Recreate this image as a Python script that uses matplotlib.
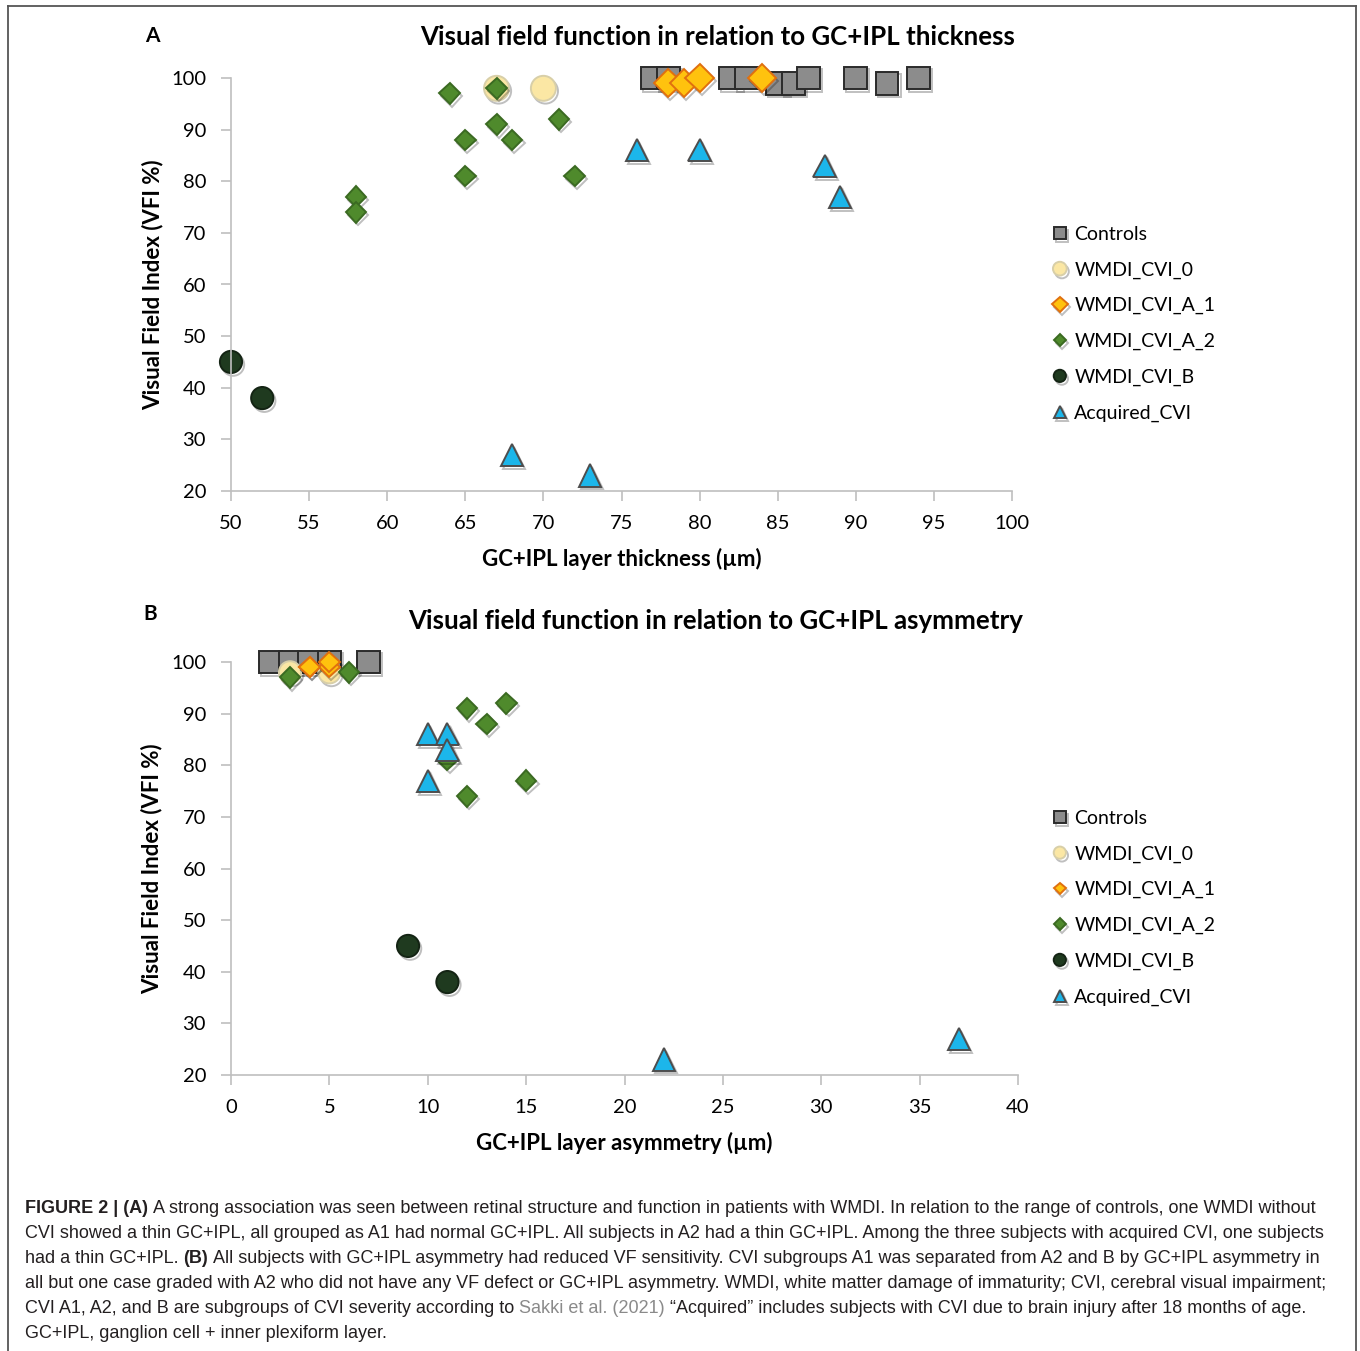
import numpy as np
import matplotlib
matplotlib.use('Agg')
import matplotlib.pyplot as plt
import matplotlib.patheffects as pe
from matplotlib.lines import Line2D

## The Data ..
# panel A: GC+IPL thickness (um) vs VFI (%)
ctrl_thk = [77, 78, 82, 83, 85, 86, 87, 90, 92, 94]
ctrl_thk_vfi = [100, 100, 100, 100, 99, 99, 100, 100, 99, 100]
cvi0_thk = [67, 70]
cvi0_thk_vfi = [98, 98]
a1_thk = [78, 79, 80, 84]
a1_thk_vfi = [99, 99, 100, 100]
a2_thk = [64, 67, 65, 67, 68, 71, 65, 72, 58, 58]
a2_thk_vfi = [97, 98, 88, 91, 88, 92, 81, 81, 77, 74]
b_thk = [50, 52]
b_thk_vfi = [45, 38]
acq_thk = [76, 80, 88, 89, 68, 73]
acq_thk_vfi = [86, 86, 83, 77, 27, 23]

# panel B: GC+IPL asymmetry (um) vs VFI (%)
ctrl_asy = [2, 3, 4, 5, 7]
ctrl_asy_vfi = [100, 100, 100, 100, 100]
cvi0_asy = [3, 5]
cvi0_asy_vfi = [98, 98]
a1_asy = [4, 5, 5, 4]
a1_asy_vfi = [99, 99, 100, 99]
a2_asy = [3, 6, 12, 14, 13, 11, 12, 15]
a2_asy_vfi = [97, 98, 91, 92, 88, 81, 74, 77]
b_asy = [9, 11]
b_asy_vfi = [45, 38]
acq_asy = [10, 11, 11, 10, 22, 37]
acq_asy_vfi = [86, 86, 83, 77, 23, 27]

series_names = ['Controls', 'WMDI_CVI_0', 'WMDI_CVI_A_1', 'WMDI_CVI_A_2', 'WMDI_CVI_B', 'Acquired_CVI']

W, H = 1360, 1351
fig = plt.figure(figsize=(W / 100, H / 100), dpi=100)
CF = ['Lato', 'DejaVu Sans']

# marker styles: marker, size, face, edge
sty_top = [('s', 16.5, '#8c8c8c', '#2b2b2b'),
           ('o', 18, '#fbe7a4', '#d8cfa8'),
           ('D', 14.5, '#ffc20e', '#e0700f'),
           ('D', 10.5, '#4f8a2c', '#3b6a22'),
           ('o', 16, '#1f3a1f', '#142414'),
           ('^', 16, '#1cb6ea', '#4d4d4d')]
sty_bot = [('s', 16.5, '#8c8c8c', '#2b2b2b'),
           ('o', 16, '#fbe7a4', '#d8cfa8'),
           ('D', 10.5, '#ffc20e', '#e0700f'),
           ('D', 10.5, '#4f8a2c', '#3b6a22'),
           ('o', 16, '#1f3a1f', '#142414'),
           ('^', 16, '#1cb6ea', '#4d4d4d')]


def px2fig(x0, y0, x1, y1):
    return [x0 / W, 1 - y1 / H, (x1 - x0) / W, (y1 - y0) / H]


def draw_panel(rect, data, styles, xlim, xticks, xlabel, title, title_xy, letter, letter_xy, leg_xy):
    ax = fig.add_axes(px2fig(*rect))
    for (xs, ys), name, (m, ms, fc, ec) in zip(data, series_names, styles):
        ax.plot(xs, ys, linestyle='none', marker=m, markersize=ms,
                markerfacecolor=fc, markeredgecolor=ec, markeredgewidth=1.4,
                clip_on=False, label=name,
                path_effects=[pe.SimpleLineShadow(offset=(1.5, -2), alpha=0.25, shadow_color='k'), pe.Normal()])
    ax.set_xlim(*xlim)
    ax.set_ylim(20, 100)
    ax.set_xticks(xticks)
    ax.set_yticks(np.arange(20, 101, 10))
    for s in ['top', 'right']:
        ax.spines[s].set_visible(False)
    for s in ['left', 'bottom']:
        ax.spines[s].set_color('#bfbfbf')
        ax.spines[s].set_linewidth(1.2)
    ax.tick_params(axis='both', direction='out', length=7, width=1.2, color='#bfbfbf',
                   labelsize=14.5, labelcolor='black')
    ax.tick_params(axis='y', pad=11)
    ax.tick_params(axis='x', pad=10)
    for lab in ax.get_xticklabels() + ax.get_yticklabels():
        lab.set_family(CF)
    ax.set_xlabel(xlabel, fontsize=16, fontweight='bold', family=CF)
    ax.set_ylabel('Visual Field Index (VFI %)', fontsize=16, fontweight='bold', family=CF)
    ax.xaxis.set_label_coords(0.5, -0.138)
    ax.yaxis.set_label_coords(-0.087, 0.5)
    fig.text(title_xy[0] / W, 1 - title_xy[1] / H, title, fontsize=18.6, fontweight='bold',
             family=CF, ha='center', va='center')
    fig.text(letter_xy[0] / W, 1 - letter_xy[1] / H, letter, fontsize=15, fontweight='bold',
             family=CF, ha='center', va='center')
    ax.legend(loc='upper left', bbox_to_anchor=(leg_xy[0] / W, 1 - leg_xy[1] / H),
              bbox_transform=fig.transFigure, frameon=False, markerscale=0.55,
              handlelength=0.6, handletextpad=0.45, labelspacing=0.95, borderpad=0,
              borderaxespad=0, prop={'family': CF, 'size': 14})
    return ax


top_data = [(ctrl_thk, ctrl_thk_vfi), (cvi0_thk, cvi0_thk_vfi), (a1_thk, a1_thk_vfi),
            (a2_thk, a2_thk_vfi), (b_thk, b_thk_vfi), (acq_thk, acq_thk_vfi)]
bot_data = [(ctrl_asy, ctrl_asy_vfi), (cvi0_asy, cvi0_asy_vfi), (a1_asy, a1_asy_vfi),
            (a2_asy, a2_asy_vfi), (b_asy, b_asy_vfi), (acq_asy, acq_asy_vfi)]

draw_panel((231, 78, 1012, 491), top_data, sty_top, (50, 100), np.arange(50, 101, 5),
           'GC+IPL layer thickness (\u00b5m)', 'Visual field function in relation to GC+IPL thickness',
           (718, 37), 'A', (152, 36), (1054, 226))
draw_panel((231, 662, 1018, 1075), bot_data, sty_bot, (0, 40), np.arange(0, 41, 5),
           'GC+IPL layer asymmetry (\u00b5m)', 'Visual field function in relation to GC+IPL asymmetry',
           (716, 621), 'B', (150, 614), (1054, 810))

## frame round the figure
fc = '#555555'
fig.add_artist(Line2D([8 / W, 8 / W], [0, 1 - 6 / H], transform=fig.transFigure, color=fc, lw=1.3))
fig.add_artist(Line2D([1356 / W, 1356 / W], [0, 1 - 6 / H], transform=fig.transFigure, color=fc, lw=1.3))
fig.add_artist(Line2D([8 / W, 1356 / W], [1 - 6 / H, 1 - 6 / H], transform=fig.transFigure, color=fc, lw=1.3))

## caption
cap_lines = [
    [('FIGURE 2 | (A)', 'bold', '#231f20'),
     ('A strong association was seen between retinal structure and function in patients with WMDI. In relation to the range of controls, one WMDI without', 'normal', '#231f20')],
    [('CVI showed a thin GC+IPL, all grouped as A1 had normal GC+IPL. All subjects in A2 had a thin GC+IPL. Among the three subjects with acquired CVI, one subjects', 'normal', '#231f20')],
    [('had a thin GC+IPL.', 'normal', '#231f20'), ('(B)', 'bold', '#231f20'),
     ('All subjects with GC+IPL asymmetry had reduced VF sensitivity. CVI subgroups A1 was separated from A2 and B by GC+IPL asymmetry in', 'normal', '#231f20')],
    [('all but one case graded with A2 who did not have any VF defect or GC+IPL asymmetry. WMDI, white matter damage of immaturity; CVI, cerebral visual impairment;', 'normal', '#231f20')],
    [('CVI A1, A2, and B are subgroups of CVI severity according to', 'normal', '#231f20'),
     ('Sakki et al. (2021)', 'normal', '#8a8a8a'),
     ('\u201cAcquired\u201d includes subjects with CVI due to brain injury after 18 months of age.', 'normal', '#231f20')],
    [('GC+IPL, ganglion cell + inner plexiform layer.', 'normal', '#231f20')],
]
cap_size = 13.0
renderer = fig.canvas.get_renderer()
space_px = cap_size * 0.278 * 100 / 72
y0 = 1213
for i, parts in enumerate(cap_lines):
    x = 25.0
    yb = 1 - (y0 + i * 25) / H
    for txt, wgt, col in parts:
        t = fig.text(x / W, yb, txt, fontsize=cap_size, fontweight=wgt, color=col,
                     family='Liberation Sans', va='baseline', ha='left')
        bb = t.get_window_extent(renderer)
        x = bb.x1 + space_px

fig.savefig('out.png', dpi=100)
